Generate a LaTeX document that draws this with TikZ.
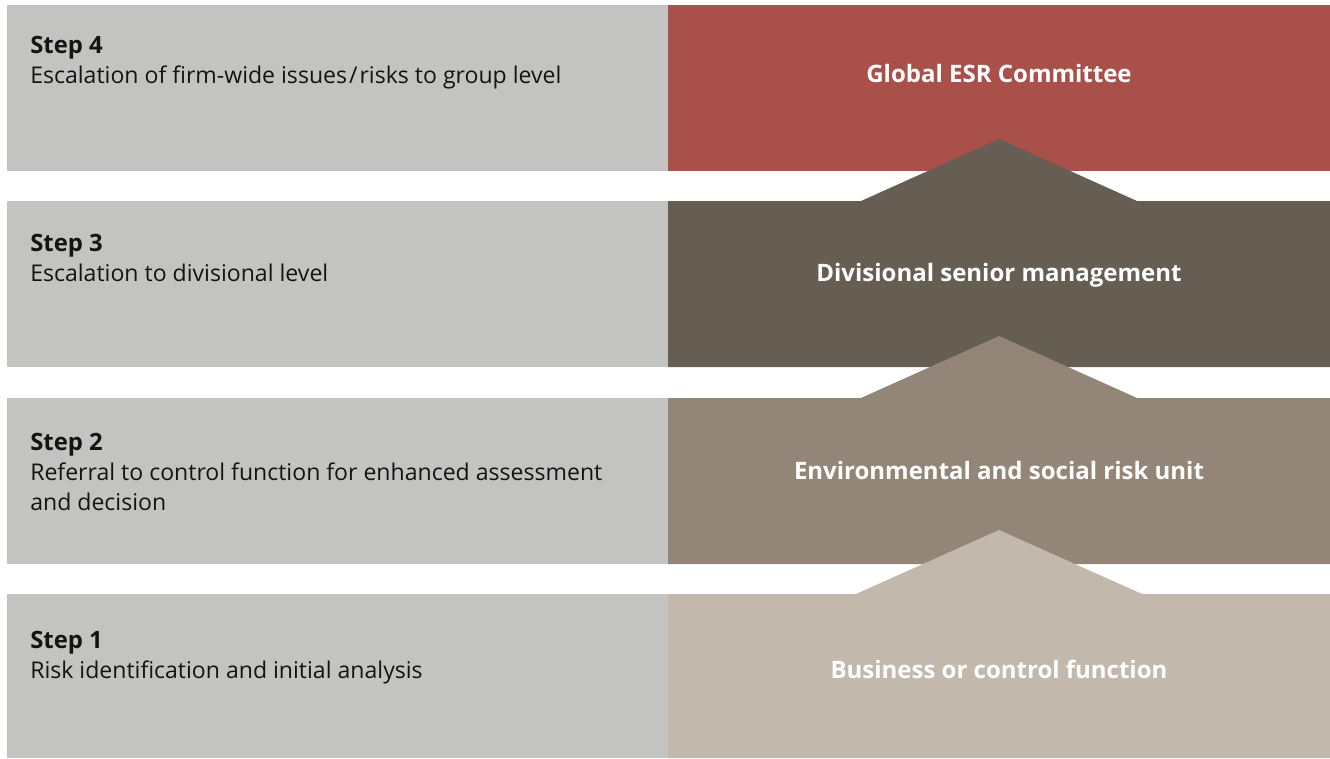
\documentclass[tikz,border=0pt]{standalone}
\usepackage{fontspec}
\setmainfont{Open Sans}
\definecolor{leftgray}{HTML}{C3C3C1}
\definecolor{esrred}{HTML}{AA504B}
\definecolor{esrdark}{HTML}{665D53}
\definecolor{esrmid}{HTML}{938678}
\definecolor{esrlight}{HTML}{C2B8AC}
\definecolor{txt}{HTML}{141414}
\tikzset{
  leftbox/.style={fill=leftgray},
  steptitle/.style={anchor=base west, inner sep=0pt, text=txt, font=\fontsize{17.9}{22.5}\selectfont\bfseries},
  steptext/.style={anchor=base west, inner sep=0pt, text=txt, font=\fontsize{17.3}{22.5}\selectfont, align=left},
  unitlabel/.style={anchor=base, inner sep=0pt, text=white, font=\fontsize{18}{22.5}\selectfont\bfseries}
}
\begin{document}
\begin{tikzpicture}[x=0.75pt,y=-0.75pt]
\useasboundingbox (0,0) rectangle (1330,758);
\fill[white] (0,0) rectangle (1330,758);
% left grey panels
\fill[leftbox] (7,5) rectangle (668,171);
\fill[leftbox] (7,201) rectangle (668,367);
\fill[leftbox] (7,398) rectangle (668,564);
\fill[leftbox] (7,594) rectangle (668,758);
% right coloured panels with upward arrow heads
\fill[esrred] (668,5) rectangle (1330,171);
\fill[esrdark] (668,201) -- (861,201) -- (999,139) -- (1137,201) -- (1330,201) -- (1330,367) -- (668,367) -- cycle;
\fill[esrmid] (668,398) -- (861,398) -- (999,336) -- (1137,398) -- (1330,398) -- (1330,564) -- (668,564) -- cycle;
\fill[esrlight] (668,594) -- (856,594) -- (999,530) -- (1142,594) -- (1330,594) -- (1330,758) -- (668,758) -- cycle;
% step texts
\node[steptitle] (s4) at (30,53) {Step 4};
\node[steptext] (t4) at (30,83) {Escalation of firm-wide issues\kern1.5pt/\kern1.5pt risks to group level};
\node[steptitle] (s3) at (30,251) {Step 3};
\node[steptext] (t3) at (30,281) {Escalation to divisional level};
\node[steptitle] (s2) at (30,450) {Step 2};
\node[steptext] (t2) at (30,480) {Referral to control function for enhanced assessment};
\node[steptext] (t2b) at (30,510) {and decision};
\node[steptitle] (s1) at (30,648) {Step 1};
\node[steptext] (t1) at (30,678) {Risk identification and initial analysis};
% unit labels
\node[unitlabel] (u4) at (999,82) {Global ESR Committee};
\node[unitlabel] (u3) at (999,281) {Divisional senior management};
\node[unitlabel] (u2) at (999,479) {Environmental and social risk unit};
\node[unitlabel] (u1) at (999,678) {Business or control function};
\end{tikzpicture}
\end{document}
